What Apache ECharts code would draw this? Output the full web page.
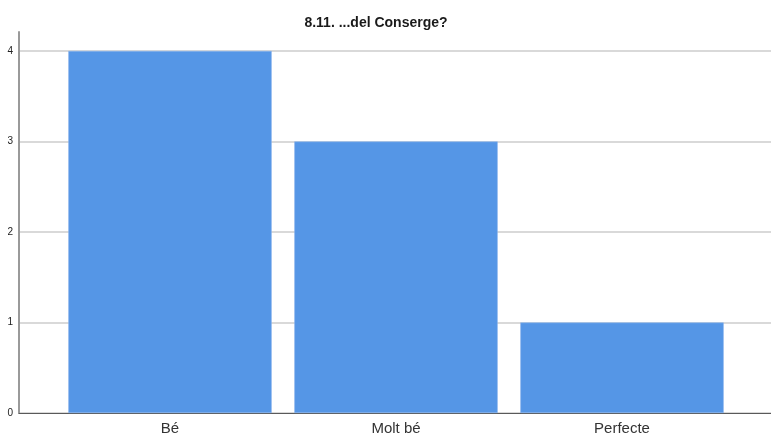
<!DOCTYPE html>
<html><head><meta charset="utf-8">
<script src="https://cdn.jsdelivr.net/npm/echarts@6/dist/echarts.min.js"></script>
<style>html,body{margin:0;padding:0;background:#fff}#c{width:771px;height:437px}</style>
</head><body><div id="c"></div>
<script>
const titleText = "8.11. ...del Conserge?";
const categories = ["Bé", "Molt bé", "Perfecte"];
const counts = [4, 3, 1];
const yTicks = [0, 1, 2, 3, 4];

const yMax = 4.21;
const chart = echarts.init(document.getElementById('c'), null, {renderer: 'canvas'});
chart.setOption({
  animation: false,
  backgroundColor: '#ffffff',
  title: {
    text: titleText, left: 371, top: 11, textAlign: 'center',
    textStyle: {fontFamily: 'Liberation Sans, Arial', fontSize: 14, fontWeight: 'bold', color: '#1a1a1a'}
  },
  grid: [
    {left: 19, right: 0, top: 32, bottom: 24},
    {left: 57, right: 36, top: 32, bottom: 24}
  ],
  xAxis: [
    {gridIndex: 0, type: 'category', data: categories, boundaryGap: true,
     axisLine: {show: true, lineStyle: {color: '#5a5a5a', width: 1}},
     axisTick: {show: false}, axisLabel: {show: false}},
    {gridIndex: 1, type: 'category', data: categories,
     axisLine: {show: false}, axisTick: {show: false},
     axisLabel: {show: true, margin: 8, fontFamily: 'Liberation Sans, Arial', fontSize: 15, color: '#333333'}}
  ],
  yAxis: [
    {gridIndex: 0, type: 'value', min: yTicks[0], max: yMax, interval: 1,
     axisLine: {show: true, lineStyle: {color: '#9a9a9a', width: 2}},
     axisTick: {show: false},
     axisLabel: {show: true, showMaxLabel: false, margin: 6, fontFamily: 'Liberation Sans, Arial', fontSize: 10, color: '#222',
       formatter: v => (yTicks.indexOf(v) >= 0 ? String(v) : '')},
     splitLine: {show: true, showMaxLine: false, lineStyle: {color: '#d9d9d9', width: 2}}},
    {gridIndex: 1, type: 'value', min: yTicks[0], max: yMax, interval: 1, show: false,
     splitLine: {show: false}}
  ],
  series: [{
    type: 'bar', xAxisIndex: 1, yAxisIndex: 1, data: counts,
    barCategoryGap: '10%',
    itemStyle: {color: '#5596e6', borderColor: '#8ab4ec', borderWidth: 0.6},
    z: 3
  }]
});
</script></body></html>
